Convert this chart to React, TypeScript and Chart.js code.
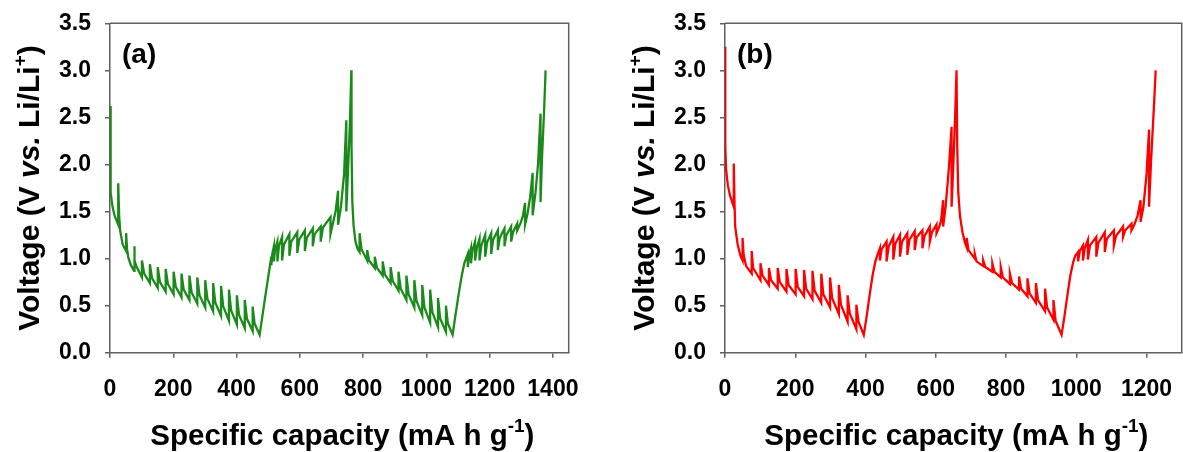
import React, { useEffect, useRef } from 'react';
import { Chart, registerables } from 'chart.js';

Chart.register(...registerables);

type P = [number, number];

// ---------- Panel (a): capacity (mA h g-1), voltage (V) ----------
const A_DISCHARGE_1: P[] = [
  [0, 2.62], [1, 2.0], [3, 1.70], [8, 1.55], [15, 1.45], [26, 1.36],
  [26, 1.80], [29, 1.45], [32, 1.30], [40, 1.15], [51, 1.08],
  [51, 1.27], [54, 1.10], [58, 1.01], [66, 0.93], [76, 0.87],
  [76, 1.13], [79, 0.98], [83, 0.92], [101, 0.80],
  [101, 0.98], [108, 0.84], [126, 0.74],
  [126, 0.94], [133, 0.79], [151, 0.69],
  [151, 0.91], [158, 0.75], [176, 0.65],
  [176, 0.89], [183, 0.73], [201, 0.62],
  [201, 0.86], [208, 0.70], [226, 0.59],
  [226, 0.84], [233, 0.67], [251, 0.56],
  [251, 0.82], [258, 0.64], [276, 0.52],
  [276, 0.80], [283, 0.61], [301, 0.48],
  [301, 0.77], [308, 0.57], [326, 0.44],
  [326, 0.74], [333, 0.53], [351, 0.39],
  [351, 0.71], [358, 0.49], [376, 0.34],
  [376, 0.67], [383, 0.45], [401, 0.30],
  [401, 0.61], [408, 0.40], [426, 0.26],
  [426, 0.56], [433, 0.36], [451, 0.23],
  [451, 0.49], [457, 0.31], [473, 0.19],
];
const A_CHARGE_1: P[] = [
  [473, 0.19], [480, 0.35], [490, 0.58], [500, 0.80], [510, 1.02],
  [510, 0.93], [513, 1.05], [518, 1.13],
  [518, 0.97], [522, 1.10], [529, 1.18],
  [529, 0.97], [534, 1.13], [544, 1.23],
  [544, 0.98], [550, 1.15], [567, 1.26],
  [567, 1.03], [573, 1.18], [592, 1.28],
  [592, 1.06], [598, 1.20], [616, 1.30],
  [616, 1.08], [622, 1.22], [641, 1.32],
  [641, 1.13], [647, 1.26], [666, 1.34],
  [666, 1.18], [673, 1.33], [697, 1.44],
  [697, 1.26], [705, 1.38], [713, 1.50], [721, 1.72],
  [721, 1.36], [730, 1.55], [740, 1.90], [747, 2.47],
  [747, 1.50], [752, 1.90], [758, 2.40], [763, 3.00],
];
const A_DISCHARGE_2: P[] = [
  [763, 3.00], [764, 2.20], [766, 1.60], [770, 1.35], [776, 1.18], [783, 1.10], [789, 1.07],
  [789, 1.27], [795, 1.10], [813, 0.98],
  [813, 1.09], [819, 0.98], [837, 0.90],
  [837, 1.02], [844, 0.90], [862, 0.82],
  [862, 0.97], [869, 0.83], [887, 0.74],
  [887, 0.91], [894, 0.76], [912, 0.66],
  [912, 0.86], [919, 0.68], [937, 0.56],
  [937, 0.82], [944, 0.62], [962, 0.48],
  [962, 0.77], [969, 0.55], [987, 0.40],
  [987, 0.72], [994, 0.48], [1012, 0.32],
  [1012, 0.67], [1019, 0.43], [1037, 0.27],
  [1037, 0.58], [1044, 0.36], [1062, 0.22],
  [1062, 0.50], [1068, 0.31], [1083, 0.19],
];
const A_CHARGE_2: P[] = [
  [1083, 0.19], [1092, 0.40], [1102, 0.62], [1112, 0.82], [1120, 0.95], [1131, 1.05],
  [1131, 0.91], [1135, 1.03], [1141, 1.11],
  [1141, 0.95], [1146, 1.09], [1154, 1.18],
  [1154, 0.98], [1160, 1.12], [1168, 1.21],
  [1168, 0.98], [1174, 1.14], [1186, 1.25],
  [1186, 1.02], [1192, 1.17], [1205, 1.27],
  [1205, 1.05], [1211, 1.20], [1226, 1.30],
  [1226, 1.09], [1232, 1.22], [1247, 1.32],
  [1247, 1.13], [1253, 1.25], [1268, 1.34],
  [1268, 1.18], [1274, 1.28], [1287, 1.37],
  [1287, 1.30], [1297, 1.37], [1305, 1.45], [1312, 1.59],
  [1312, 1.36], [1320, 1.48], [1328, 1.65], [1336, 1.91],
  [1336, 1.46], [1345, 1.70], [1353, 2.00], [1361, 2.54],
  [1361, 1.60], [1366, 2.10], [1372, 2.55], [1377, 3.00],
];

// ---------- Panel (b) ----------
const B_DISCHARGE_1: P[] = [
  [0, 3.25], [0.5, 2.70], [1, 2.20], [3, 1.95], [8, 1.78], [15, 1.66], [25, 1.55],
  [25, 2.01], [27, 1.60], [29, 1.34], [36, 1.15], [44, 1.03], [50, 0.98],
  [50, 1.22], [53, 1.04], [60, 0.92], [76, 0.84],
  [76, 1.08], [80, 0.90], [101, 0.77],
  [101, 0.95], [107, 0.82], [125, 0.72],
  [125, 0.90], [131, 0.77], [150, 0.68],
  [150, 0.90], [156, 0.75], [175, 0.65],
  [175, 0.89], [181, 0.72], [201, 0.62],
  [201, 0.89], [207, 0.70], [225, 0.60],
  [225, 0.88], [231, 0.68], [249, 0.57],
  [249, 0.87], [255, 0.66], [274, 0.53],
  [274, 0.84], [280, 0.62], [299, 0.48],
  [299, 0.80], [305, 0.58], [324, 0.41],
  [324, 0.72], [330, 0.51], [349, 0.33],
  [349, 0.61], [355, 0.42], [374, 0.25],
  [374, 0.51], [380, 0.33], [395, 0.19],
];
const B_CHARGE_1: P[] = [
  [395, 0.19], [403, 0.38], [412, 0.62], [420, 0.82], [428, 0.97], [436, 1.06], [441, 1.11],
  [441, 0.98], [446, 1.10], [460, 1.18],
  [460, 0.97], [466, 1.13], [479, 1.23],
  [479, 0.99], [485, 1.16], [498, 1.25],
  [498, 1.02], [504, 1.18], [519, 1.27],
  [519, 1.04], [525, 1.20], [540, 1.29],
  [540, 1.09], [546, 1.23], [562, 1.30],
  [562, 1.11], [568, 1.24], [583, 1.34],
  [583, 1.18], [589, 1.28], [602, 1.36],
  [602, 1.27], [609, 1.33], [615, 1.40], [621, 1.62],
  [621, 1.34], [628, 1.55], [637, 1.95], [645, 2.40],
  [645, 1.55], [650, 2.00], [655, 2.50], [659, 3.00],
];
const B_DISCHARGE_2: P[] = [
  [659, 3.00], [661, 2.20], [664, 1.70], [669, 1.45], [676, 1.28], [683, 1.17], [688, 1.12],
  [688, 1.22], [693, 1.09], [711, 1.00],
  [711, 1.05], [716, 0.97], [735, 0.92],
  [735, 0.98], [741, 0.91], [761, 0.86],
  [761, 0.95], [767, 0.86], [785, 0.80],
  [785, 0.91], [791, 0.80], [811, 0.73],
  [811, 0.84], [817, 0.74], [837, 0.67],
  [837, 0.81], [843, 0.68], [861, 0.60],
  [861, 0.79], [867, 0.63], [885, 0.53],
  [885, 0.74], [891, 0.56], [911, 0.44],
  [911, 0.68], [917, 0.48], [935, 0.35],
  [935, 0.56], [941, 0.34], [958, 0.19],
];
const B_CHARGE_2: P[] = [
  [958, 0.19], [966, 0.38], [975, 0.62], [983, 0.82], [991, 0.96], [997, 1.03], [1005, 1.07],
  [1005, 0.97], [1010, 1.08], [1019, 1.14],
  [1019, 0.98], [1024, 1.11], [1033, 1.20],
  [1033, 0.99], [1039, 1.14], [1057, 1.23],
  [1057, 1.02], [1063, 1.17], [1081, 1.28],
  [1081, 1.07], [1087, 1.21], [1107, 1.30],
  [1107, 1.14], [1113, 1.24], [1133, 1.34],
  [1133, 1.23], [1139, 1.30], [1157, 1.37],
  [1157, 1.30], [1165, 1.36], [1174, 1.45], [1183, 1.62],
  [1183, 1.39], [1191, 1.55], [1200, 1.90], [1207, 2.37],
  [1207, 1.55], [1213, 2.05], [1220, 2.55], [1226, 3.00],
];

// ---------- Axes ----------
const Y_TICKS = [0, 0.5, 1.0, 1.5, 2.0, 2.5, 3.0, 3.5];
const X_TICKS_A = [0, 200, 400, 600, 800, 1000, 1200, 1400];
const X_TICKS_B = [0, 200, 400, 600, 800, 1000, 1200];
const X_MAX_A = 1450;
const X_MAX_B = 1300;
const Y_MAX = 3.5;

const FONT = 'Arial, "Liberation Sans", Helvetica, sans-serif';
const AXIS_COLOR = '#5f5f5f';

type Run = { t: string; size: number; italic?: boolean; dy?: number };
const Y_TITLE: Run[] = [
  { t: 'Voltage (V ', size: 30 },
  { t: 'vs.', size: 30, italic: true },
  { t: ' Li/Li', size: 30 },
  { t: '+', size: 19, dy: -13 },
  { t: ')', size: 30 },
];
const X_TITLE: Run[] = [
  { t: 'Specific capacity (mA h g', size: 29.5 },
  { t: '-1', size: 19, dy: -13 },
  { t: ')', size: 29.5 },
];

function drawRuns(ctx: CanvasRenderingContext2D, runs: Run[], cx: number, y: number) {
  const fontOf = (r: Run) => `${r.italic ? 'italic ' : ''}bold ${r.size}px ${FONT}`;
  let total = 0;
  const widths = runs.map((r) => {
    ctx.font = fontOf(r);
    const w = ctx.measureText(r.t).width;
    total += w;
    return w;
  });
  let x = cx - total / 2;
  ctx.textAlign = 'left';
  ctx.textBaseline = 'alphabetic';
  runs.forEach((r, i) => {
    ctx.font = fontOf(r);
    ctx.fillText(r.t, x, y + (r.dy || 0));
    x += widths[i];
  });
}

function makeDecor(label: string) {
  return {
    id: 'decor',
    afterDraw(chart: any) {
      const { ctx, chartArea: ca } = chart;
      ctx.save();
      ctx.strokeStyle = AXIS_COLOR;
      ctx.lineWidth = 1.5;
      ctx.beginPath();
      ctx.moveTo(ca.left, ca.top);
      ctx.lineTo(ca.right, ca.top);
      ctx.lineTo(ca.right, ca.bottom);
      ctx.stroke();

      ctx.fillStyle = '#000';
      ctx.font = `bold 28px ${FONT}`;
      ctx.textAlign = 'left';
      ctx.textBaseline = 'alphabetic';
      ctx.fillText(label, ca.left + 12, ca.top + 40);

      drawRuns(ctx, X_TITLE, (ca.left + ca.right) / 2 + 3, ca.bottom + 92);

      ctx.translate(ca.left - 70.7, (ca.top + ca.bottom) / 2);
      ctx.rotate(-Math.PI / 2);
      drawRuns(ctx, Y_TITLE, 0, 0);
      ctx.restore();
    },
  };
}

type PanelProps = {
  segments: P[][];
  color: string;
  xMax: number;
  xTicks: number[];
  label: string;
  width: number;
  yAxisWidth: number;
  padRight: number;
};

function Panel({ segments, color, xMax, xTicks, label, width, yAxisWidth, padRight }: PanelProps) {
  const ref = useRef<HTMLCanvasElement | null>(null);
  useEffect(() => {
    if (!ref.current) return;
    const pts = segments.flat().map(([x, y]) => ({ x, y }));
    const tickFont = { family: FONT, size: 23, weight: 'bold' as const };
    const chart = new Chart(ref.current, {
      type: 'scatter',
      data: {
        datasets: [
          {
            data: pts,
            showLine: true,
            borderColor: color,
            backgroundColor: color,
            borderWidth: 2.3,
            pointRadius: 0,
            pointHoverRadius: 0,
            tension: 0,
            fill: false,
          },
        ],
      },
      options: {
        responsive: false,
        animation: false,
        layout: { padding: { top: 23.3, right: padRight, left: 0, bottom: 0 } },
        plugins: { legend: { display: false }, tooltip: { enabled: false } },
        scales: {
          x: {
            type: 'linear',
            min: 0,
            max: xMax,
            afterBuildTicks: (s: any) => {
              s.ticks = xTicks.map((v) => ({ value: v }));
            },
            afterFit: (s: any) => {
              s.height = 99.3;
              s.paddingLeft = 0;
              s.paddingRight = 0;
            },
            ticks: {
              font: tickFont,
              color: '#000',
              padding: 18,
              maxRotation: 0,
              autoSkip: false,
              callback: (v: any) => String(v),
            },
            grid: { display: true, drawOnChartArea: false, drawTicks: true, tickLength: 5, color: AXIS_COLOR, lineWidth: 1.5 },
            border: { display: true, color: AXIS_COLOR, width: 1.5 },
          },
          y: {
            type: 'linear',
            min: 0,
            max: Y_MAX,
            afterBuildTicks: (s: any) => {
              s.ticks = Y_TICKS.map((v) => ({ value: v }));
            },
            afterFit: (s: any) => {
              s.width = yAxisWidth;
              s.paddingTop = 0;
              s.paddingBottom = 0;
            },
            ticks: {
              font: tickFont,
              color: '#000',
              padding: 14,
              autoSkip: false,
              callback: (v: any) => Number(v).toFixed(1),
            },
            grid: { display: true, drawOnChartArea: false, drawTicks: true, tickLength: 5, color: AXIS_COLOR, lineWidth: 1.5 },
            border: { display: true, color: AXIS_COLOR, width: 1.5 },
          },
        },
      },
      plugins: [makeDecor(label)],
    });
    return () => chart.destroy();
  }, []);
  return <canvas ref={ref} width={width} height={452} style={{ display: 'block', width, height: 452 }} />;
}

export default function App() {
  return (
    <div style={{ position: 'fixed', left: 0, top: 0, width: 1183, height: 452, background: '#fff', display: 'flex' }}>
      <Panel
        segments={[A_DISCHARGE_1, A_CHARGE_1, A_DISCHARGE_2, A_CHARGE_2]}
        color="#1a8a1a"
        xMax={X_MAX_A}
        xTicks={X_TICKS_A}
        label="(a)"
        width={590}
        yAxisWidth={110}
        padRight={21.3}
      />
      <Panel
        segments={[B_DISCHARGE_1, B_CHARGE_1, B_DISCHARGE_2, B_CHARGE_2]}
        color="#ff0000"
        xMax={X_MAX_B}
        xTicks={X_TICKS_B}
        label="(b)"
        width={593}
        yAxisWidth={135}
        padRight={1.3}
      />
    </div>
  );
}
